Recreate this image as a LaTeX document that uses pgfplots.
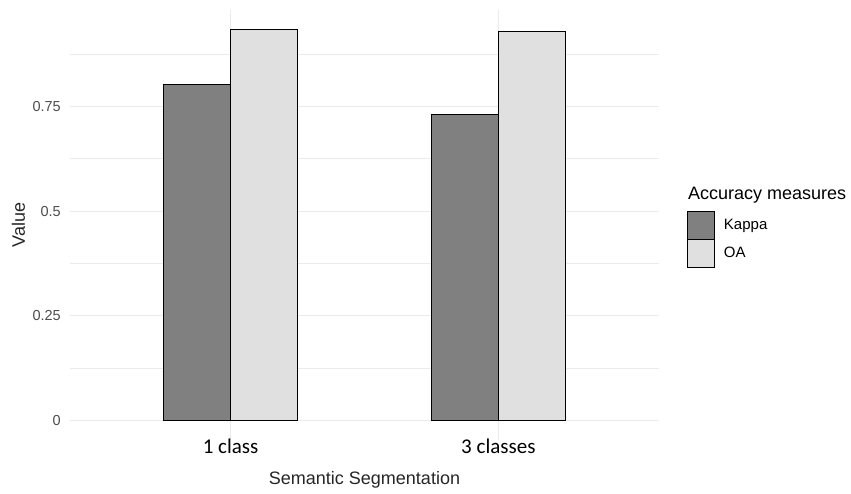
\documentclass[border=0pt]{standalone}
\usepackage{fontspec}
\setmainfont{Liberation Sans}
\newfontfamily\carlito{Carlito}
\usepackage{pgfplots}
\pgfplotsset{compat=1.18}
\definecolor{kappa}{HTML}{808080}
\definecolor{oa}{HTML}{E0E0E0}
\definecolor{gridc}{HTML}{EBEBEB}
\definecolor{ticktext}{HTML}{4D4D4D}
\begin{document}
\begin{tikzpicture}
\path[use as bounding box] (-70pt,-53pt) rectangle (781pt,440pt);
\begin{axis}[
  at={(0pt,0pt)}, anchor=south west,
  scale only axis, width=589pt, height=430.5pt,
  xmin=-0.6, xmax=1.6, ymin=-0.04675, ymax=0.98175,
  axis line style={draw=none},
  tick style={draw=none}, major tick length=0pt, minor tick length=0pt,
  xtick={0,1}, xticklabels={1 class, 3 classes},
  ytick={0,0.25,0.5,0.75}, yticklabels={0,0.25,0.5,0.75},
  minor ytick={0.125,0.375,0.625,0.875},
  ymajorgrids, xmajorgrids, yminorgrids,
  grid style={gridc, line width=1.1pt},
  minor grid style={gridc, line width=0.9pt},
  xticklabel style={anchor=base, yshift=-13pt, font=\carlito\fontsize{21}{24}\selectfont, text=black},
  yticklabel style={anchor=east, inner sep=0pt, xshift=-9pt, font=\fontsize{14.5}{17}\selectfont, text=ticktext},
  /pgf/number format/assume math mode=true,
  xlabel={Semantic Segmentation},
  xlabel style={at={(rel axis cs:0.5,-0.1045)}, anchor=base, font=\fontsize{18}{21}\selectfont, text=black!85},
  ylabel={Value},
  ylabel style={at={(rel axis cs:-0.0874,0.5)}, anchor=center, font=\fontsize{18}{21}\selectfont, text=black!85},
  ybar=0pt, bar width=0.25,
  legend style={at={(1.047,0.5326)}, anchor=north west, draw=none, fill=none,
    inner sep=0pt, row sep=-1.1pt, column sep=9pt,
    font=\fontsize{15}{18}\selectfont, nodes={inner sep=0pt}},
  legend cell align=left,
  clip=false,
]
\addplot[draw=black, fill=kappa, line width=1.1pt,
  legend image code/.code={\draw[black, line width=1.1pt, fill=kappa] (0pt,-14pt) rectangle (27pt,14pt);}]
  coordinates {(0,0.803) (1,0.7315)};
\addlegendentry{Kappa}
\addplot[draw=black, fill=oa, line width=1.1pt,
  legend image code/.code={\draw[black, line width=1.1pt, fill=oa] (0pt,-14pt) rectangle (27pt,14pt);}]
  coordinates {(0,0.935) (1,0.929)};
\addlegendentry{OA}
\end{axis}
\node[anchor=base west, font=\fontsize{18}{21}\selectfont, inner sep=0pt] at (618pt,240pt) {Accuracy measures};
\end{tikzpicture}
\end{document}
